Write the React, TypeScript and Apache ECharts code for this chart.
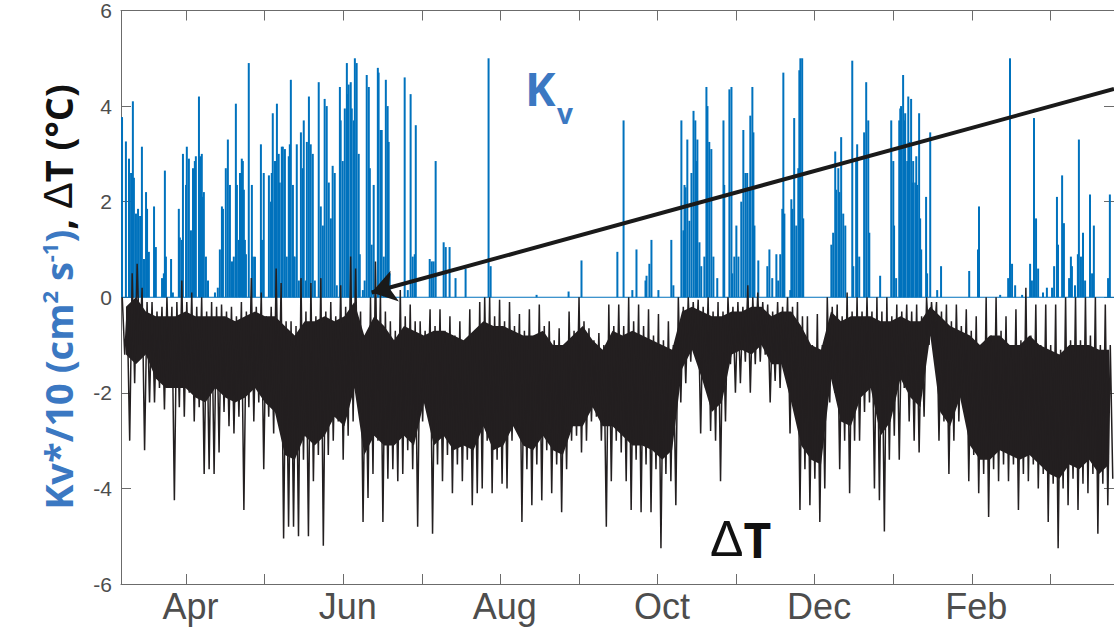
import React, { useEffect, useRef } from "react";
import * as echarts from "echarts";

// ---- time axis (days from the start of the record) ----
const X_MAX = 384.7; // record length shown, days
const APR1 = 25.2; // day of the first tick (Apr)
const MONTH_LEN = 30.44;
const monthNames = ["Apr", "May", "Jun", "Jul", "Aug", "Sep", "Oct", "Nov", "Dec", "Jan", "Feb", "Mar"];
const yTicks = { min: -6, max: 6, interval: 2 };

// ---- Kv*/10 spikes: day of record, value ----
const kvDay = [
  0.4, 1.9, 3.1, 3.9, 4.6, 5.0, 5.8, 6.6, 7.4, 8.1, 8.9, 9.7, 10.1, 10.8, 12.8, 13.5, 15.9, 16.6, 17.0, 17.4,
  19.4, 20.1, 22.4, 22.8, 23.6, 24.0, 25.2, 25.5, 26.3, 27.1, 27.9, 28.6, 29.0, 30.2, 30.6, 31.3, 31.7, 32.1, 32.9, 33.7,
  36.4, 37.5, 38.3, 39.1, 39.5, 40.6, 41.4, 42.2, 43.0, 43.7, 44.5, 44.9, 45.7, 46.1, 46.8, 47.2, 47.6, 48.0, 48.4, 49.5,
  50.7, 51.1, 51.9, 54.2, 54.6, 55.3, 57.3, 58.1, 58.4, 58.8, 59.6, 60.0, 60.4, 61.1, 61.5, 62.3, 62.7, 63.5, 64.2, 65.0,
  65.4, 65.8, 66.6, 67.0, 67.3, 68.1, 68.9, 69.7, 70.4, 70.8, 71.6, 72.0, 72.8, 73.5, 74.3, 75.1, 76.6, 77.4, 78.2, 78.9,
  79.7, 80.5, 81.3, 82.0, 82.8, 83.6, 84.8, 85.1, 85.9, 86.7, 87.5, 87.8, 88.2, 89.0, 89.4, 90.2, 90.6, 91.3, 92.1, 92.5,
  93.7, 94.4, 95.2, 96.0, 96.4, 97.1, 97.9, 99.5, 99.8, 100.6, 101.0, 101.8, 102.6, 103.3, 103.7, 104.1, 109.9, 111.1, 112.2, 113.0,
  113.8, 114.2, 119.6, 120.4, 121.1, 121.9, 125.0, 125.8, 127.3, 129.6, 133.5, 142.4, 143.2, 161.0, 173.4, 178.4, 192.3, 194.7, 198.1, 199.7,
  203.2, 203.6, 204.7, 205.5, 208.2, 213.2, 214.0, 217.1, 217.9, 218.3, 218.7, 219.4, 220.2, 221.0, 221.8, 222.5, 222.9, 223.3, 224.1, 224.8,
  226.0, 226.8, 227.2, 227.9, 228.7, 229.5, 231.0, 233.4, 233.7, 235.7, 236.5, 236.8, 237.6, 238.4, 239.2, 240.3, 241.1, 241.9, 242.6, 243.4,
  243.8, 244.6, 245.0, 245.4, 246.9, 250.4, 251.2, 252.3, 253.9, 254.6, 255.4, 256.2, 256.6, 257.0, 259.3, 259.7, 260.1, 260.8, 261.6, 262.4,
  262.8, 263.2, 263.9, 264.3, 275.2, 275.9, 276.7, 277.1, 277.9, 278.3, 279.0, 279.8, 280.6, 283.3, 283.7, 284.8, 285.2, 286.0, 287.9, 288.7,
  289.5, 289.9, 294.1, 298.4, 299.2, 299.5, 300.3, 301.5, 301.9, 302.2, 303.0, 303.4, 303.8, 304.6, 305.0, 305.3, 306.1, 306.5, 306.9, 307.7,
  308.1, 308.4, 309.2, 309.6, 310.0, 311.9, 312.3, 313.5, 316.2, 317.7, 328.6, 332.0, 332.4, 340.6, 343.7, 344.4, 345.2, 346.4, 349.1, 352.2,
  352.9, 353.7, 354.5, 355.3, 357.2, 358.7, 360.7, 361.5, 362.6, 363.0, 364.6, 365.3, 367.3, 368.0, 368.4, 369.6, 370.7, 371.1, 371.9, 372.7,
  373.5, 375.4, 376.2, 376.9, 382.4, 383.1,
];
const kvVal = [
  3.77, 3.26, 2.9, 2.6, 4.1, 2.5, 1.75, 1.85, 1.7, 3.15, 0.8, 2.2, 1.85, 0.95, 1.9, 1.05, 0.4, 0.5, 2.65, 0.85,
  0.8, 0.1, 1.85, 1.25, 1.2, 3.0, 2.35, 3.15, 2.9, 1.4, 2.7, 2.85, 2.95, 4.2, 2.95, 3.0, 2.1, 2.2, 0.85, 0.35,
  0.1, 0.2, 1.0, 1.9, 1.85, 2.7, 3.3, 2.35, 0.75, 0.85, 4.05, 2.35, 1.2, 2.6, 2.9, 2.85, 2.25, 1.2, 0.9, 4.9,
  2.35, 0.85, 0.85, 3.2, 1.2, 2.6, 2.55, 2.0, 2.6, 3.85, 2.85, 2.85, 4.05, 3.0, 2.4, 3.15, 3.15, 3.1, 0.85, 2.95,
  3.2, 4.55, 2.35, 0.85, 0.85, 3.2, 0.35, 3.45, 2.7, 3.7, 0.35, 3.25, 4.2, 3.2, 3.0, 0.35, 4.5, 1.9, 1.5, 4.15,
  4.0, 2.4, 1.65, 2.75, 2.6, 0.25, 4.4, 3.7, 2.85, 3.95, 4.9, 4.25, 4.45, 4.5, 3.95, 3.7, 5.0, 4.9, 3.0, 0.9,
  0.15, 0.35, 4.65, 4.4, 2.7, 1.1, 2.35, 4.8, 4.7, 3.5, 3.5, 0.85, 4.55, 4.0, 3.25, 0.5, 4.6, 0.15, 4.25, 0.85,
  0.9, 3.6, 0.8, 0.75, 0.75, 2.85, 1.15, 1.05, 1.05, 0.4, 0.6, 5.0, 0.65, 0.05, 0.12, 0.77, 0.95, 3.7, 0.15, 1.0,
  0.35, 0.45, 0.7, 1.2, 0.15, 1.2, 0.25, 3.7, 1.4, 2.35, 2.3, 3.3, 1.6, 2.6, 3.9, 3.7, 2.85, 3.3, 1.15, 0.65,
  0.85, 4.4, 4.0, 3.25, 3.1, 0.85, 0.4, 3.7, 2.35, 4.35, 4.4, 0.5, 0.85, 1.5, 0.85, 2.0, 3.5, 2.6, 2.6, 2.25,
  3.8, 4.4, 3.45, 1.5, 0.77, 0.65, 1.0, 0.4, 0.9, 0.35, 0.9, 1.85, 4.7, 1.75, 0.15, 2.05, 1.85, 3.75, 1.5, 2.7,
  4.75, 5.0, 5.0, 1.65, 1.1, 1.35, 3.05, 2.25, 2.7, 2.2, 3.35, 1.75, 1.5, 4.95, 0.65, 2.85, 3.2, 0.85, 3.45, 4.5,
  3.7, 1.35, 0.45, 3.7, 2.85, 1.5, 0.4, 3.7, 3.95, 4.0, 4.65, 3.7, 3.85, 2.85, 4.2, 3.25, 4.15, 2.4, 2.85, 2.4,
  2.95, 2.35, 3.85, 1.65, 1.0, 2.1, 0.5, 3.45, 0.15, 0.65, 0.55, 1.0, 1.9, 0.05, 0.4, 5.0, 0.7, 0.25, 0.05, 0.7,
  0.35, 3.75, 1.65, 0.6, 0.1, 0.2, 0.2, 0.65, 2.1, 1.1, 2.55, 1.55, 0.4, 0.85, 0.65, 0.25, 0.9, 3.3, 0.85, 1.35,
  0.35, 2.15, 0.5, 1.5, 0.4, 2.15,
];

// ---- ΔT: densest part of the trace (upper / lower edge), 100 equal steps ----
const dtCoreHi = [
  -0.2, 0.0, -0.3, -0.4, -0.4, -0.4, -0.3, -0.4, -0.4, -0.4, -0.4, -0.5, -0.4, -0.3, -0.4, -0.4, -0.6, -0.8, -0.5, -0.5,
  -0.4, -0.5, -0.4, -0.1, -0.8, -0.4, -0.6, -0.9, -0.6, -0.7, -0.8, -0.7, -0.7, -0.8, -0.9, -0.7, -0.5, -0.6, -0.6, -0.7,
  -0.8, -0.8, -0.7, -1.0, -1.0, -0.8, -0.6, -0.9, -1.1, -0.7, -0.8, -0.7, -0.8, -0.9, -1.0, -1.1, -0.3, -0.2, -0.3, -0.4,
  -0.4, -0.3, -0.3, -0.2, -0.2, -0.4, -0.3, -0.3, -0.6, -1.0, -1.1, -0.3, -0.5, -0.4, -0.4, -0.4, -0.5, -0.5, -0.4, -0.5,
  -0.5, -0.2, -0.4, -0.6, -0.7, -0.8, -1.0, -0.8, -0.8, -1.0, -1.0, -0.8, -1.0, -1.1, -1.2, -1.0, -1.0, -1.0, -1.1, -1.1,
];
const dtCoreLo = [
  -1.2, -1.4, -1.2, -1.7, -1.9, -1.9, -1.9, -2.1, -2.2, -1.9, -2.1, -2.2, -2.1, -1.9, -2.2, -2.4, -3.3, -3.4, -2.9, -3.1,
  -2.9, -2.5, -2.7, -1.9, -3.3, -2.9, -3.1, -3.1, -2.9, -3.1, -2.2, -3.1, -2.9, -3.2, -3.1, -3.2, -2.7, -3.2, -3.1, -2.7,
  -3.1, -3.2, -2.9, -3.2, -3.3, -2.7, -2.7, -2.3, -2.7, -2.7, -2.9, -3.1, -3.1, -3.2, -3.4, -3.2, -1.5, -1.1, -1.7, -2.4,
  -2.2, -1.2, -1.1, -1.2, -1.0, -1.4, -1.4, -2.2, -3.1, -3.4, -3.5, -1.7, -2.6, -2.7, -2.1, -1.9, -2.9, -2.6, -1.7, -2.1,
  -2.3, -0.8, -2.4, -2.7, -2.1, -3.1, -3.4, -3.4, -3.2, -3.3, -3.4, -3.3, -3.5, -3.7, -3.8, -3.5, -3.6, -3.4, -3.7, -3.5,
];

// ---- ΔT trace: local highs and lows, 400 equal steps ----
const dT = [
  0.0, -1.2, -0.3, -3.0, 0.5, -1.8, 0.7, -1.0, 0.2, -3.2, -0.1, -2.2, -0.1, -2.2, -0.3, -1.9, -0.2, -2.35, 0.0, -1.8,
  -0.2, -4.25, -0.1, -2.3, 0.35, -2.5, -0.1, -2.0, 0.1, -2.6, -0.2, -2.3, 0.0, -3.7, -0.3, -3.6, -0.1, -3.7, -0.2, -3.25,
  -0.15, -2.4, -0.3, -2.7, -0.2, -2.85, -0.4, -2.5, -0.1, -4.45, -0.3, -2.3, 0.4, -2.6, -0.2, -2.2, 0.1, -3.6, -0.4, -2.5,
  -0.2, -2.85, 0.6, -2.5, 0.3, -5.05, -0.5, -4.8, -0.5, -4.8, -0.6, -5.0, 0.4, -3.4, -0.3, -5.0, 0.3, -3.85, -0.4, -3.3,
  0.4, -5.2, -0.3, -3.3, -0.1, -3.0, -0.4, -2.6, 0.25, -3.4, -0.2, -2.9, 0.85, -2.6, 0.6, -2.2, -0.3, -4.7, -0.9, -4.2,
  0.0, -3.7, 0.75, -3.0, 0.1, -4.7, -0.3, -3.8, -0.5, -3.6, -0.7, -3.85, 0.15, -3.7, -0.4, -3.2, -0.15, -3.6, -0.5, -4.8,
  -0.5, -2.6, -0.7, -2.4, -0.25, -4.95, -0.6, -3.5, -0.25, -3.85, -0.7, -3.3, -0.4, -4.1, -0.8, -3.5, -0.5, -3.85, -0.9, -3.4,
  -0.25, -4.35, -0.7, -4.1, -0.1, -4.0, 0.0, -3.0, 0.0, -4.1, -0.4, -3.4, -0.05, -3.9, -0.5, -4.0, -0.1, -3.0, -0.6, -2.8,
  -0.35, -4.7, -0.7, -3.6, -0.25, -4.35, -0.8, -3.5, -0.15, -4.25, -0.6, -3.2, -0.5, -4.1, -0.9, -3.5, -0.65, -4.5, -1.0, -3.6,
  -0.3, -3.0, -0.7, -2.9, 0.0, -3.25, -0.5, -3.0, -0.65, -2.6, -0.9, -2.5, -0.75, -3.0, -1.0, -4.8, -0.15, -3.85, -0.6, -3.0,
  -0.15, -3.25, -0.6, -3.85, 0.0, -4.45, -0.5, -3.4, -0.15, -4.5, -0.6, -3.5, -0.25, -4.5, -0.8, -3.6, -0.35, -5.25, -0.9, -3.7,
  -0.5, -3.85, -1.0, -4.35, 0.0, -2.2, -0.2, -1.8, 0.0, -1.35, -0.1, -1.2, -0.05, -2.85, -0.2, -1.9, 0.0, -2.8, -0.3, -3.0,
  -0.1, -3.85, -0.3, -2.6, 0.0, -1.4, -0.2, -2.0, -0.1, -1.8, -0.2, -1.35, 0.25, -2.0, 0.0, -1.4, 0.1, -1.35, -0.1, -1.2,
  -0.15, -2.2, -0.3, -1.75, -0.1, -1.9, -0.2, -1.6, 0.0, -2.85, -0.2, -2.4, -0.1, -4.45, -0.4, -3.6, -0.4, -4.35, -1.0, -3.8,
  -0.35, -4.7, -1.0, -4.0, 0.0, -2.2, -0.2, -2.0, -0.15, -3.6, -0.4, -3.0, 0.1, -4.1, -0.3, -3.0, 0.0, -3.0, -0.3, -2.4,
  0.0, -2.2, -0.3, -4.0, 0.0, -4.25, -0.3, -4.9, 0.0, -3.4, -0.4, -2.9, -0.15, -3.4, -0.3, -1.9, -0.15, -2.6, -0.3, -3.0,
  -0.15, -3.25, -0.4, -2.5, 0.0, -1.0, -0.1, -0.9, -0.1, -3.0, -0.3, -2.6, -0.15, -3.7, -0.5, -3.0, -0.15, -2.6, -0.6, -2.4,
  -0.25, -3.85, -0.7, -3.3, -0.4, -4.1, -1.0, -3.7, 0.0, -4.6, -0.8, -3.6, 0.0, -3.85, -0.7, -3.5, -0.4, -3.85, -1.0, -3.5,
  -0.25, -4.45, -0.9, -3.7, 0.2, -3.85, -0.8, -3.5, -0.15, -4.0, -1.0, -3.7, -0.15, -4.7, -1.0, -3.9, -0.15, -5.25, -1.1, -4.0,
  0.0, -4.35, -0.9, -3.8, 0.0, -4.45, -0.9, -3.9, 0.0, -4.1, -0.8, -3.7, 0.0, -4.95, -1.0, -3.9, -0.15, -4.35, -1.0, -3.8,
];

// ---- arrow annotation (data coordinates) ----
const arrowTip = [97.1, 0.1];
const arrowTail = [384.7, 4.36];

const BLUE = "#0072BD";
const LABEL_BLUE = "#3B78C2";
const BLACK = "#231F20";
const AXIS = "#6b6b6b";
const TICK_TEXT = "#4d4d4d";
const SANS = "'Liberation Sans', Arial, sans-serif";
const TITLE_FONT = "'Open Sans', 'Noto Sans', sans-serif";

export default function App() {
  const ref = useRef<HTMLDivElement>(null);

  useEffect(() => {
    if (!ref.current) return;
    const chart = echarts.init(ref.current, undefined, { renderer: "svg" });

    const tickDays = monthNames.map((_, k) => APR1 + MONTH_LEN * k).filter((d) => d <= X_MAX);
    const labelDays = tickDays.filter((_, k) => k % 2 === 0);
    const monthLabel = (v: number) => {
      const k = Math.round((v - APR1) / MONTH_LEN);
      return k % 2 === 0 && monthNames[k] ? monthNames[k] : "";
    };

    const bandStep = X_MAX / dtCoreHi.length;
    const bandDay = (j: number) => (j + 0.5) * bandStep;
    const dtStep = X_MAX / dT.length;

    const tickStyle = { show: true, inside: true, length: 10, lineStyle: { color: AXIS, width: 1 } };
    const lineStyleAxis = { show: true, onZero: false, lineStyle: { color: AXIS, width: 1 } };

    const xCommon = {
      type: "value",
      min: 0,
      max: X_MAX,
      splitLine: { show: false },
      axisLine: lineStyleAxis,
    };
    const yCommon = {
      type: "value",
      min: yTicks.min,
      max: yTicks.max,
      interval: yTicks.interval,
      splitLine: { show: false },
      axisLine: lineStyleAxis,
      axisTick: tickStyle,
    };

    chart.setOption({
      animation: false,
      backgroundColor: "#ffffff",
      grid: { left: 121, right: -1, top: 10, bottom: 44, containLabel: false },
      xAxis: [
        {
          ...xCommon,
          position: "bottom",
          axisTick: { ...tickStyle, customValues: tickDays },
          axisLabel: {
            show: true,
            customValues: labelDays,
            formatter: monthLabel,
            color: TICK_TEXT,
            fontSize: 36,
            fontFamily: SANS,
            margin: 4,
            padding: [0, 0, 0, 9],
          },
        },
        {
          ...xCommon,
          position: "top",
          axisTick: { ...tickStyle, customValues: tickDays },
          axisLabel: { show: false },
        },
      ],
      yAxis: [
        {
          ...yCommon,
          position: "left",
          axisLabel: { show: true, color: TICK_TEXT, fontSize: 21, fontFamily: SANS, margin: 9 },
        },
        {
          ...yCommon,
          position: "right",
          axisLabel: { show: false },
        },
      ],
      graphic: [
        {
          type: "text",
          x: 58,
          y: 297,
          rotation: Math.PI / 2,
          style: {
            text: "{b|Kv*/10 (cm}{s|2}{b| s}{s|-1}{b|)}{k|, }{d|Δ}{k|T (°C)}",
            align: "center",
            verticalAlign: "middle",
            rich: {
              b: { fill: LABEL_BLUE, fontSize: 38, fontWeight: "bold", fontFamily: TITLE_FONT },
              s: { fill: LABEL_BLUE, fontSize: 22, fontWeight: "bold", fontFamily: TITLE_FONT, verticalAlign: "top" },
              k: { fill: "#111111", fontSize: 38, fontWeight: "bold", fontFamily: TITLE_FONT },
              d: { fill: "#111111", fontSize: 40, fontWeight: "normal", fontFamily: SANS },
            },
          },
        },
        {
          type: "text",
          x: 525,
          y: 88,
          style: {
            text: "K",
            fill: LABEL_BLUE,
            fontSize: 46,
            fontWeight: "bold",
            fontFamily: TITLE_FONT,
            align: "left",
            verticalAlign: "middle",
          },
        },
        {
          type: "text",
          x: 557,
          y: 113,
          style: {
            text: "v",
            fill: LABEL_BLUE,
            fontSize: 28,
            fontWeight: "bold",
            fontFamily: TITLE_FONT,
            align: "left",
            verticalAlign: "middle",
          },
        },
        {
          type: "text",
          x: 710,
          y: 539,
          style: {
            text: "{d|Δ}{t|T}",
            align: "left",
            verticalAlign: "middle",
            rich: {
              d: { fill: "#111111", fontSize: 50, fontWeight: "normal", fontFamily: SANS },
              t: { fill: "#111111", fontSize: 48, fontWeight: "bold", fontFamily: TITLE_FONT },
            },
          },
        },
      ],
      series: [
        {
          name: "Kv baseline",
          type: "line",
          data: [
            [0, 0],
            [X_MAX, 0],
          ],
          showSymbol: false,
          silent: true,
          z: 1,
          lineStyle: { color: BLUE, width: 1 },
        },
        {
          name: "Kv",
          type: "bar",
          data: kvDay.map((d, i) => [d, kvVal[i]]),
          barWidth: 2,
          silent: true,
          z: 2,
          itemStyle: { color: BLUE },
        },
        {
          name: "dT core",
          type: "custom",
          data: dtCoreHi.map((v, j) => [bandDay(j), v]),
          silent: true,
          z: 3,
          renderItem: (params: any, api: any) => {
            if (params.dataIndex !== 0) return { type: "group", children: [] };
            const pts: number[][] = [];
            for (let j = 0; j < dtCoreHi.length; j++) pts.push(api.coord([bandDay(j), dtCoreHi[j]]));
            for (let j = dtCoreLo.length - 1; j >= 0; j--) pts.push(api.coord([bandDay(j), dtCoreLo[j]]));
            return { type: "polygon", shape: { points: pts }, style: { fill: BLACK } };
          },
        },
        {
          name: "dT",
          type: "line",
          data: dT.map((v, i) => [(i + 0.5) * dtStep, v]),
          showSymbol: false,
          silent: true,
          z: 4,
          lineStyle: { color: BLACK, width: 1.5 },
          markLine: {
            silent: true,
            symbol: ["arrow", "none"],
            symbolSize: 24,
            label: { show: false },
            lineStyle: { color: "#1a1a1a", width: 4, type: "solid" },
            data: [[{ coord: arrowTip }, { coord: arrowTail }]],
          },
        },
      ],
    });

    return () => chart.dispose();
  }, []);

  return (
    <div
      ref={ref}
      style={{ position: "fixed", left: 0, top: 0, width: 1114, height: 628, background: "#fff" }}
    />
  );
}
